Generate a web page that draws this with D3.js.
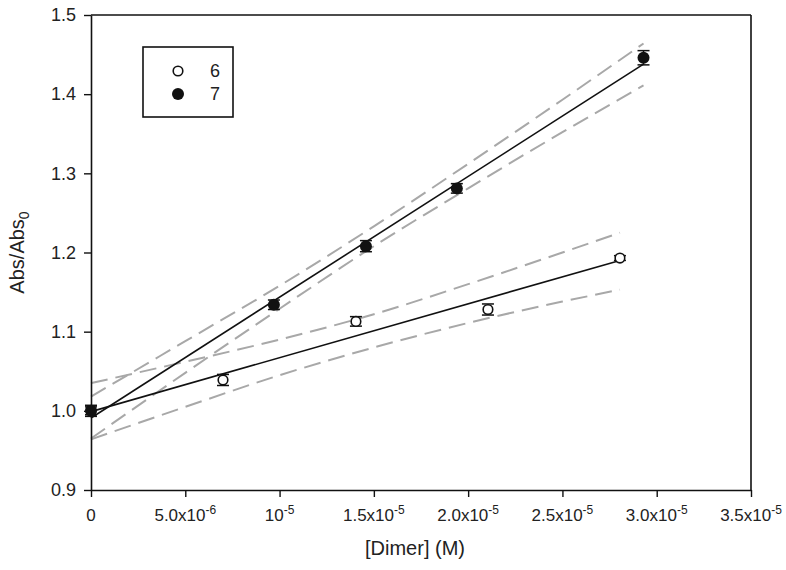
<!DOCTYPE html>
<html>
<head>
<meta charset="utf-8">
<script src="https://cdn.jsdelivr.net/npm/d3@7"></script>
<style>
  html, body { margin: 0; padding: 0; background: #fff; }
  text { font-family: "Liberation Sans", Arial, sans-serif; fill: #222; }
</style>
</head>
<body>
<svg id="chart" width="786" height="570"></svg>
<script>
// ---- data ----
const seriesNames = ["6", "7"];
const x6 = [0, 0.70e-5, 1.405e-5, 2.105e-5, 2.805e-5];
const y6 = [1.000, 1.039, 1.113, 1.128, 1.193];
const e6 = [0.005, 0.007, 0.006, 0.007, 0.003];
const x7 = [0, 0.97e-5, 1.458e-5, 1.94e-5, 2.93e-5];
const y7 = [1.000, 1.134, 1.208, 1.281, 1.446];
const e7 = [0.007, 0.006, 0.007, 0.006, 0.009];

// fitted lines (end points)
const fit6x = [0, 2.805e-5];
const fit6y = [0.999, 1.190];
const fit7x = [0, 2.93e-5];
const fit7y = [0.991, 1.438];

// confidence bands (dashed)
const band6x = [0, 0.5e-5, 1.0e-5, 1.5e-5, 2.0e-5, 2.5e-5, 2.805e-5];
const band6Upper = [1.035, 1.062, 1.090, 1.122, 1.160, 1.200, 1.225];
const band6Lower = [0.964, 1.005, 1.045, 1.080, 1.111, 1.138, 1.153];
const band7x = [0, 0.5e-5, 1.0e-5, 1.5e-5, 2.0e-5, 2.5e-5, 2.93e-5];
const band7Upper = [1.018, 1.088, 1.158, 1.233, 1.312, 1.393, 1.464];
const band7Lower = [0.965, 1.048, 1.129, 1.208, 1.281, 1.352, 1.411];

const xTicks = [0, 5e-6, 1e-5, 1.5e-5, 2e-5, 2.5e-5, 3e-5, 3.5e-5];
const xTickBase = ["0", "5.0x10", "10", "1.5x10", "2.0x10", "2.5x10", "3.0x10", "3.5x10"];
const xTickExp = ["", "-6", "-5", "-5", "-5", "-5", "-5", "-5"];
const yTicks = [0.9, 1.0, 1.1, 1.2, 1.3, 1.4, 1.5];
const yTickLabels = ["0.9", "1.0", "1.1", "1.2", "1.3", "1.4", "1.5"];

// ---- drawing ----
const svg = d3.select("#chart");
const L = 91, R = 751, T = 15, B = 490;
const x = d3.scaleLinear().domain([0, 3.5e-5]).range([L, R]);
const y = d3.scaleLinear().domain([0.9, 1.5]).range([B, T]);

const line = d3.line().x(d => x(d[0])).y(d => y(d[1]));
const curve = d3.line().x(d => x(d[0])).y(d => y(d[1])).curve(d3.curveMonotoneX);

const plot = svg.append("g");

function band(xs, ys) {
  plot.append("path")
    .attr("d", curve(xs.map((v, i) => [v, ys[i]])))
    .attr("fill", "none").attr("stroke", "#a8a8a8")
    .attr("stroke-width", 2).attr("stroke-dasharray", "17,8");
}
band(band6x, band6Upper); band(band6x, band6Lower);
band(band7x, band7Upper); band(band7x, band7Lower);

function fit(xs, ys) {
  plot.append("path")
    .attr("d", line(xs.map((v, i) => [v, ys[i]])))
    .attr("fill", "none").attr("stroke", "#111").attr("stroke-width", 1.6);
}
fit(fit6x, fit6y); fit(fit7x, fit7y);

function errbars(xs, ys, es) {
  const g = plot.append("g").attr("stroke", "#111").attr("stroke-width", 1.5);
  xs.forEach((v, i) => {
    const cx = x(v), y1 = y(ys[i] - es[i]), y2 = y(ys[i] + es[i]);
    g.append("line").attr("x1", cx).attr("x2", cx).attr("y1", y1).attr("y2", y2);
    g.append("line").attr("x1", cx - 6).attr("x2", cx + 6).attr("y1", y1).attr("y2", y1);
    g.append("line").attr("x1", cx - 6).attr("x2", cx + 6).attr("y1", y2).attr("y2", y2);
  });
}
errbars(x6, y6, e6);
errbars(x7, y7, e7);

plot.selectAll("circle.s6").data(x6.map((v, i) => [v, y6[i]])).join("circle")
  .attr("class", "s6").attr("cx", d => x(d[0])).attr("cy", d => y(d[1])).attr("r", 4.8)
  .attr("fill", "#fff").attr("stroke", "#111").attr("stroke-width", 1.6);
plot.selectAll("circle.s7").data(x7.map((v, i) => [v, y7[i]])).join("circle")
  .attr("class", "s7").attr("cx", d => x(d[0])).attr("cy", d => y(d[1])).attr("r", 6)
  .attr("fill", "#111");

// axes
const xAxis = svg.append("g").attr("transform", `translate(0,${B})`)
  .call(d3.axisBottom(x).tickValues(xTicks).tickSize(7).tickSizeOuter(0).tickFormat(() => ""));
xAxis.select(".domain").attr("stroke", "#111").attr("stroke-width", 1.6);
xAxis.selectAll(".tick line").attr("stroke", "#111").attr("stroke-width", 1.4);
xAxis.selectAll(".tick text").remove();
xTicks.forEach((v, i) => {
  const t = svg.append("text").attr("x", x(v)).attr("y", 521)
    .attr("text-anchor", "middle").attr("font-size", 17);
  t.append("tspan").text(xTickBase[i]);
  if (xTickExp[i]) t.append("tspan").attr("dy", -7).attr("font-size", 12).text(xTickExp[i]);
});

const yAxis = svg.append("g").attr("transform", `translate(${L},0)`)
  .call(d3.axisLeft(y).tickValues(yTicks).tickSize(7).tickSizeOuter(0)
    .tickFormat((d, i) => yTickLabels[i]));
yAxis.select(".domain").attr("stroke", "#111").attr("stroke-width", 1.6);
yAxis.selectAll(".tick line").attr("stroke", "#111").attr("stroke-width", 1.4);
yAxis.selectAll(".tick text").attr("font-size", 18).attr("x", -15)
  .attr("font-family", "Liberation Sans, Arial, sans-serif").attr("fill", "#222");

// frame top & right
svg.append("line").attr("x1", x(0)).attr("x2", x(3.5e-5)).attr("y1", y(1.5)).attr("y2", y(1.5))
  .attr("stroke", "#111").attr("stroke-width", 1.6);
svg.append("line").attr("x1", x(3.5e-5)).attr("x2", x(3.5e-5)).attr("y1", y(1.5)).attr("y2", y(0.9))
  .attr("stroke", "#111").attr("stroke-width", 1.6);

// axis titles
svg.append("text").attr("x", 415).attr("y", 555).attr("text-anchor", "middle")
  .attr("font-size", 20).text("[Dimer] (M)");
const yt = svg.append("text").attr("transform", `translate(24,${(T + B) / 2}) rotate(-90)`)
  .attr("text-anchor", "middle").attr("font-size", 20);
yt.append("tspan").text("Abs/Abs");
yt.append("tspan").attr("dy", 5).attr("font-size", 14).text("0");

// legend
const lg = svg.append("g");
lg.append("rect").attr("x", 143).attr("y", 47).attr("width", 90).attr("height", 70)
  .attr("fill", "#fff").attr("stroke", "#111").attr("stroke-width", 1.6);
lg.append("circle").attr("cx", 178).attr("cy", 71).attr("r", 4.8)
  .attr("fill", "#fff").attr("stroke", "#111").attr("stroke-width", 1.6);
lg.append("circle").attr("cx", 178).attr("cy", 94).attr("r", 6).attr("fill", "#111");
lg.append("text").attr("x", 215).attr("y", 77).attr("text-anchor", "middle")
  .attr("font-size", 18).text(seriesNames[0]);
lg.append("text").attr("x", 215).attr("y", 100).attr("text-anchor", "middle")
  .attr("font-size", 18).text(seriesNames[1]);
</script>
</body>
</html>
